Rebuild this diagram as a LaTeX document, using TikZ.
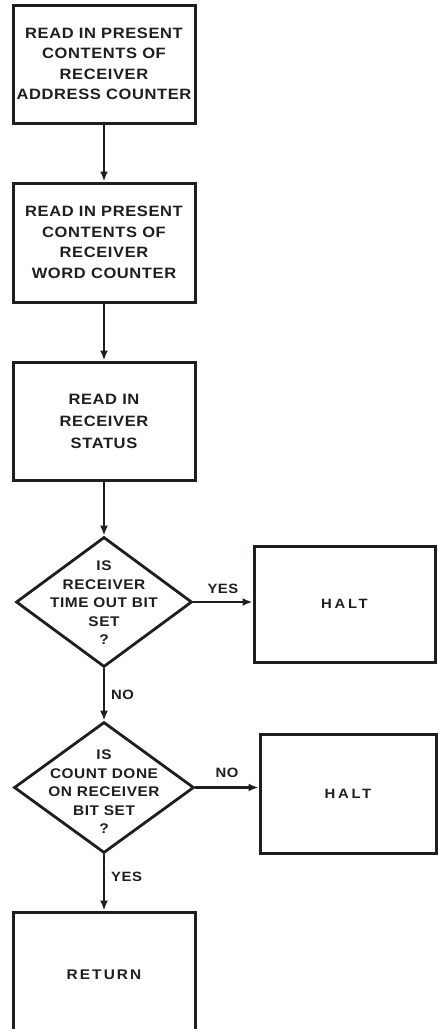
\documentclass[tikz,border=0pt]{standalone}
\usepackage{fontspec}
\usetikzlibrary{arrows.meta,shapes.geometric}
\newfontfamily\letfont[FakeStretch=1.1,LetterSpace=4]{Liberation Sans}
\definecolor{ink}{RGB}{28,32,28}
\begin{document}
\begin{tikzpicture}[x=1pt,y=-1pt,
  every node/.style={text=ink},
  procbox/.style={draw=ink,line width=3pt,minimum width=182pt,minimum height=118pt,inner sep=0pt,
    align=center,font=\letfont\bfseries\fontsize{15}{20.5}\selectfont},
  decision/.style={draw=ink,line width=2.8pt,diamond,inner sep=0pt,aspect=1.35},
  dtext/.style={align=center,inner sep=0pt,font=\letfont\bfseries\fontsize{14}{18.5}\selectfont},
  flowlbl/.style={inner sep=0pt,font=\letfont\bfseries\fontsize{13.5}{15}\selectfont},
  flow/.style={draw=ink,line width=2.4pt,-{Latex[length=10pt,width=8pt]}}]
\useasboundingbox (0,0) rectangle (437,1029);

\node[procbox] (b1) at (104,64) {READ IN PRESENT\\CONTENTS OF\\RECEIVER\\ADDRESS COUNTER};
\node[procbox,minimum height=119pt] (b2) at (104,242.5) {READ IN PRESENT\\CONTENTS OF\\RECEIVER\\WORD COUNTER};
\node[procbox,font=\letfont\bfseries\fontsize{15}{22}\selectfont] (b3) at (104,421) {READ IN\\RECEIVER\\STATUS};

\node[decision,minimum width=176pt,minimum height=130pt] (d1) at (104,602) {};
\node[dtext] (d1t) at (104,603) {IS\\RECEIVER\\TIME OUT BIT\\SET\\?};

\node[procbox,minimum width=181pt,minimum height=116pt,font=\letfont\bfseries\fontsize{13.5}{15}\selectfont\addfontfeatures{LetterSpace=20}] (h1) at (344.5,604) {HALT};

\node[decision,minimum width=180pt,minimum height=131pt] (d2) at (104,787.5) {};
\node[dtext] (d2t) at (104,792) {IS\\COUNT DONE\\ON RECEIVER\\BIT SET\\?};

\node[procbox,minimum width=176pt,minimum height=119pt,font=\letfont\bfseries\fontsize{13.5}{15}\selectfont\addfontfeatures{LetterSpace=20}] (h2) at (348,793.5) {HALT};

\node[procbox,minimum height=126pt,font=\letfont\bfseries\fontsize{14}{15}\selectfont\addfontfeatures{LetterSpace=15}] (ret) at (104,975) {RETURN};

\draw[flow] (b1) -- (b2);
\draw[flow] (b2) -- (b3);
\draw[flow] (b3) -- (d1);
\draw[flow] (d1.east) -- node[flowlbl,above=7pt] (lyes1) {YES} (h1.west |- d1.east);
\draw[flow] (d1) -- node[flowlbl,pos=0.5,right=6pt] (lno1) {NO} (d2);
\draw[flow] (d2.east) -- node[flowlbl,above=9pt] (lno2) {NO} (h2.west |- d2.east);
\draw[flow] (d2) -- node[flowlbl,pos=0.4,right=6pt] (lyes2) {YES} (ret);
\end{tikzpicture}
\end{document}
